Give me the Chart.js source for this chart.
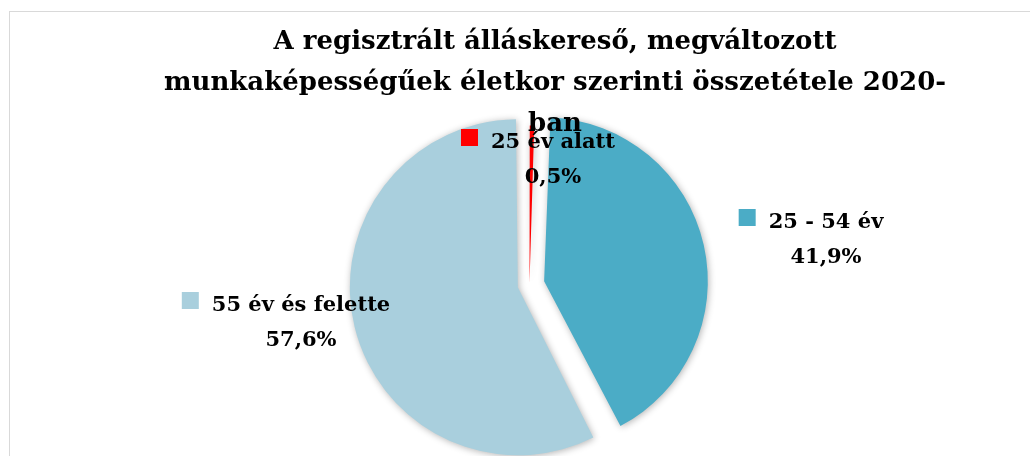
<!DOCTYPE html>
<html>
<head>
<meta charset="utf-8">
<script src="https://cdn.jsdelivr.net/npm/chart.js@4"></script>
<style>
  html, body { margin: 0; padding: 0; background: #fff; overflow: hidden; }
  #wrap { position: relative; width: 1030px; height: 456px; }
  #frame { position: absolute; left: 9px; top: 11px; width: 1100px; height: 600px; border: 1px solid #d9d9d9; }
  #title {
    position: absolute; left: 80px; top: 20px; width: 950px; text-align: center;
    font-family: "DejaVu Serif", serif; font-weight: bold; font-size: 26px; line-height: 41px; color: #000;
  }
  canvas { position: absolute; left: 0; top: 0; }
</style>
</head>
<body>
<div id="wrap">
  <div id="frame"></div>
  <canvas id="myChart" width="1030" height="456"></canvas>
  <div id="title">A regisztrált álláskereső, megváltozott<br>munkaképességűek életkor szerinti összetétele 2020-<br>ban</div>
</div>
<script>
// ADATOK //
var categories = ['25 év alatt', '25 - 54 év', '55 év és felette'];
var shares = [0.5, 41.9, 57.6];
var colors = ['#ff0000', '#4bacc6', '#a9cfdd'];

// label anchors (text centre x, first baseline y)
var labelPos = [[553, 148], [826, 228], [301, 311]];

var pieLabels = {
    id: 'pieLabels',
    beforeDatasetsDraw: function (chart) {
        var c = chart.ctx;
        c.save();
        c.shadowColor = 'rgba(0,0,0,0.3)';
        c.shadowBlur = 7;
        c.shadowOffsetX = 1;
        c.shadowOffsetY = 1;
    },
    afterDatasetsDraw: function (chart) {
        var c = chart.ctx;
        c.restore();
        c.save();
        c.font = 'bold 21px "DejaVu Serif"';
        c.fillStyle = '#000';
        c.textBaseline = 'alphabetic';
        for (var i = 0; i < categories.length; i++) {
            var x = labelPos[i][0], y = labelPos[i][1];
            var w = c.measureText(categories[i]).width;
            c.textAlign = 'center';
            c.fillText(categories[i], x, y);
            c.fillText(shares[i].toFixed(1).replace('.', ',') + '%', x, y + 35);
            c.fillStyle = colors[i];
            c.fillRect(x - w / 2 - 30, y - 19, 17, 17);
            c.fillStyle = '#000';
        }
        c.restore();
    }
};

var ctx = document.getElementById('myChart').getContext('2d');
var chart = new Chart(ctx, {
    type: 'pie',
    data: {
        labels: categories,
        datasets: [{
            data: shares,
            backgroundColor: colors,
            borderWidth: 0,
            offset: [6, 60, 48],
            radius: 156
        }]
    },
    options: {
        responsive: false,
        animation: false,
        layout: { padding: { left: 29, right: 0, top: 113, bottom: 0 } },
        plugins: {
            legend: { display: false },
            title: { display: false },
            tooltip: { enabled: false }
        }
    },
    plugins: [pieLabels]
});
</script>
</body>
</html>
